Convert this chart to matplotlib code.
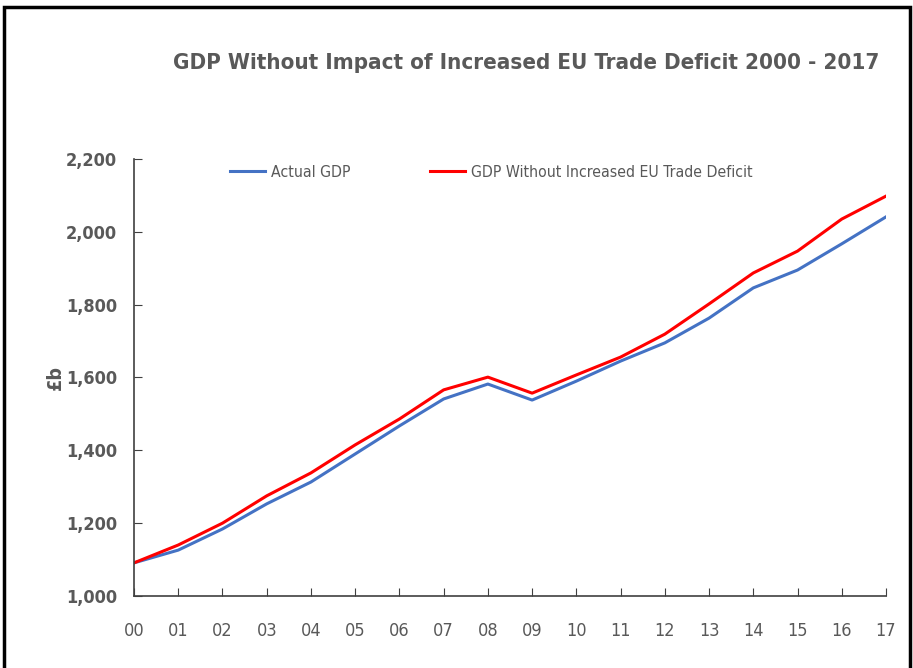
import matplotlib.pyplot as plt
from matplotlib.patches import Rectangle

years = ['00', '01', '02', '03', '04', '05', '06', '07', '08',
         '09', '10', '11', '12', '13', '14', '15', '16', '17']
actual_gdp = [1091, 1126, 1184, 1253, 1313, 1390, 1467, 1541, 1582,
              1538, 1590, 1645, 1695, 1763, 1846, 1895, 1967, 2041]
gdp_no_deficit = [1091, 1140, 1200, 1275, 1338, 1415, 1486, 1566, 1601,
                  1557, 1607, 1656, 1719, 1802, 1887, 1947, 2035, 2098]
y_ticks = [1000, 1200, 1400, 1600, 1800, 2000, 2200]

plt.rcParams['font.family'] = ['DejaVu Sans']
plt.rcParams['font.stretch'] = 'condensed'
grey = '#595959'

fig = plt.figure(figsize=(9.13, 6.68), dpi=100)
ax = fig.add_axes([0.1468, 0.1078, 0.8236, 0.6542])

x = range(len(years))
ax.plot(x, actual_gdp, color='#4472C4', linewidth=2.2, label='Actual GDP')
ax.plot(x, gdp_no_deficit, color='#FF0000', linewidth=2.2,
        label='GDP Without Increased EU Trade Deficit')

ax.set_xlim(0, len(years) - 1)
ax.set_ylim(1000, 2200)
ax.set_xticks(list(x))
ax.set_xticklabels(years)
ax.set_yticks(y_ticks)
ax.set_yticklabels([f'{v:,}' for v in y_ticks])

for side in ['top', 'right']:
    ax.spines[side].set_visible(False)
for side in ['left', 'bottom']:
    ax.spines[side].set_color('#404040')
    ax.spines[side].set_linewidth(1.2)
ax.tick_params(axis='x', direction='in', length=6, color='#404040',
               labelsize=13, labelcolor=grey, pad=19)
ax.tick_params(axis='y', direction='in', length=6, color='#404040',
               labelsize=13, labelcolor=grey, pad=12)
for lab in ax.get_yticklabels():
    lab.set_fontweight('bold')

ax.set_ylabel('£b', fontsize=14, fontweight='bold', color=grey, labelpad=1)

ax.legend(loc='center left', bbox_to_anchor=(0.1277, 0.970), ncol=2, frameon=False,
          fontsize=11.3, labelcolor=grey, handlelength=2.2, handletextpad=0.4,
          columnspacing=5.1, borderpad=0, borderaxespad=0)

fig.text(0.576, 0.905, 'GDP Without Impact of Increased EU Trade Deficit 2000 - 2017',
         ha='center', va='center', fontsize=16, fontweight='bold', color=grey)

fig.patches.append(Rectangle((0.004, -0.01), 0.993, 1.0, transform=fig.transFigure,
                             fill=False, edgecolor='black', linewidth=2.5))

fig.savefig('out.png', dpi=100)
